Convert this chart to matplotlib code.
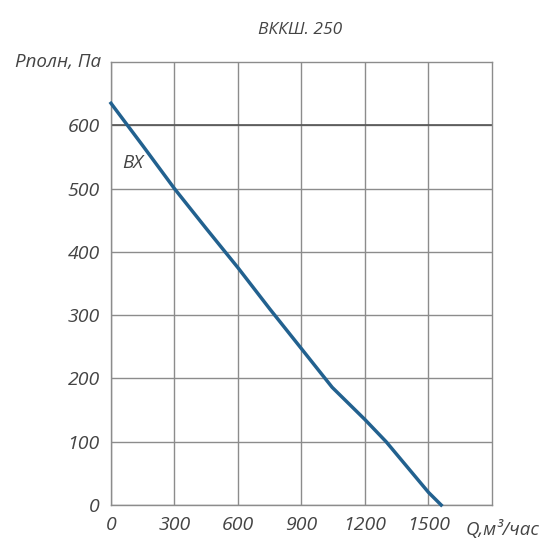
import matplotlib.pyplot as plt

# curve
flow = [0, 150, 300, 450, 600, 750, 900, 1045, 1200, 1300, 1400, 1500, 1560]
pressure = [635, 568, 500, 437, 375, 310, 247, 186, 135, 100, 60, 20, 0]
x_ticks = [0, 300, 600, 900, 1200, 1500]
y_ticks = [0, 100, 200, 300, 400, 500, 600]

plt.rcParams['font.family'] = ['Open Sans', 'DejaVu Sans']
txt = '#444444'

fig = plt.figure(figsize=(5.5, 5.5), dpi=100)
ax = fig.add_axes([0.2018, 0.0818, 0.6927, 0.8052])

ax.set_xlim(0, 1800)
ax.set_ylim(0, 700)
ax.set_xticks(x_ticks)
ax.set_yticks(y_ticks)
ax.set_xticklabels([str(v) for v in x_ticks], style='italic', fontsize=14, color=txt)
ax.set_yticklabels([str(v) for v in y_ticks], style='italic', fontsize=14, color=txt)
ax.tick_params(length=0, pad=8)
ax.grid(True, color='#8c8c8c', linewidth=1)
ax.axhline(600, color='#555555', linewidth=1.2, zorder=2)
for s in ax.spines.values():
    s.set_color('#8c8c8c')
    s.set_linewidth(1)

ax.plot(flow, pressure, color='#22618f', linewidth=2.5, zorder=3, clip_on=False)

ax.text(52, 540, 'ВХ', style='italic', fontsize=13.5, color=txt, va='center')
ax.text(-0.025, 1.0, 'Рполн, Па', transform=ax.transAxes, ha='right', va='center',
        style='italic', fontsize=13.5, color=txt)
ax.text(0.93, -0.055, 'Q,м³/час', transform=ax.transAxes, ha='left', va='center',
        style='italic', fontsize=13.5, color=txt)
fig.text(0.545, 0.945, 'ВККШ. 250', ha='center', va='center',
         style='italic', fontsize=12.5, color=txt)

fig.savefig('out.png', dpi=100, facecolor='white')
